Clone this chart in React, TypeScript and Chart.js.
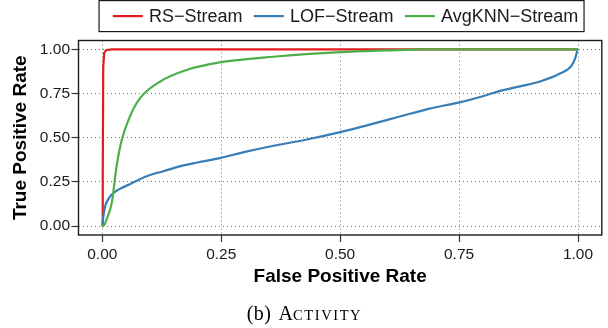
import React, { useEffect, useRef } from "react";
import { Chart, registerables } from "chart.js";

Chart.register(...registerables);

const seriesNames = ["RS−Stream", "LOF−Stream", "AvgKNN−Stream"];
const seriesColors = ["#E41A1C", "#377EB8", "#4DAF4A"];

const rsFpr = [0, 0.001, 0.002, 0.004, 0.008, 0.02, 0.1, 1];
const rsTpr = [0, 0.3, 0.9, 0.98, 0.995, 1.0, 1.0, 1.0];

const lofFpr = [0, 0.002, 0.006, 0.012, 0.02, 0.037, 0.06, 0.093, 0.13, 0.163, 0.2, 0.247, 0.3, 0.36, 0.43, 0.5, 0.56, 0.625, 0.688, 0.749, 0.8, 0.836, 0.88, 0.92, 0.962, 0.987, 0.995, 0.999];
const lofTpr = [0, 0.05, 0.113, 0.15, 0.179, 0.211, 0.24, 0.282, 0.312, 0.338, 0.36, 0.385, 0.42, 0.455, 0.49, 0.532, 0.573, 0.62, 0.665, 0.699, 0.735, 0.765, 0.792, 0.818, 0.863, 0.91, 0.957, 1.0];

const knnFpr = [0, 0.005, 0.009, 0.02, 0.03, 0.041, 0.058, 0.079, 0.121, 0.177, 0.247, 0.36, 0.5, 0.6, 0.68, 1];
const knnTpr = [0, 0.01, 0.038, 0.132, 0.338, 0.488, 0.62, 0.723, 0.817, 0.883, 0.926, 0.958, 0.984, 0.994, 1.0, 1.0];

const tickValues = [0, 0.25, 0.5, 0.75, 1];
const tickLabels = ["0.00", "0.25", "0.50", "0.75", "1.00"];

const xTitle = "False Positive Rate";
const yTitle = "True Positive Rate";

const SANS = "'Liberation Sans', Arial, Helvetica, sans-serif";
const SERIF = "'Liberation Serif', 'Times New Roman', serif";

const toPoints = (xs: number[], ys: number[]) => xs.map((x, i) => ({ x, y: ys[i] }));

const boxPlugin = {
  id: "panelBox",
  afterDraw(chart: any) {
    const { ctx, chartArea } = chart;
    ctx.save();
    ctx.setLineDash([]);
    // panel border
    ctx.strokeStyle = "#1a1a1a";
    ctx.lineWidth = 1.4;
    ctx.strokeRect(chartArea.left, chartArea.top, chartArea.right - chartArea.left, chartArea.bottom - chartArea.top);

    // legend
    ctx.font = `18px ${SANS}`;
    const widths = seriesNames.map((n) => ctx.measureText(n).width);
    const padL = 13.7, padR = 5.8, lineLen = 30, gapLT = 6.2, gapItem = 11.3;
    const total = padL + padR + widths.reduce((a, b) => a + b, 0) + seriesNames.length * (lineLen + gapLT) + (seriesNames.length - 1) * gapItem;
    const cx = (chartArea.left + chartArea.right) / 2 + 1.4;
    const left = cx - total / 2;
    const top = 0.6, h = 31;
    const cy = top + h / 2;
    ctx.strokeStyle = "#1a1a1a";
    ctx.lineWidth = 1.2;
    ctx.strokeRect(left, top, total, h);
    let x = left + padL;
    ctx.textBaseline = "middle";
    ctx.textAlign = "left";
    seriesNames.forEach((n, i) => {
      ctx.strokeStyle = seriesColors[i];
      ctx.lineWidth = 2.2;
      ctx.beginPath();
      ctx.moveTo(x, cy);
      ctx.lineTo(x + lineLen, cy);
      ctx.stroke();
      x += lineLen + gapLT;
      ctx.fillStyle = "#1a1a1a";
      ctx.fillText(n, x, cy + 0.5);
      x += widths[i] + gapItem;
    });
    ctx.restore();
  },
};

const axisCommon = (title: string) => ({
  type: "linear" as const,
  min: -0.05,
  max: 1.05,
  afterBuildTicks: (s: any) => {
    s.ticks = tickValues.map((v) => ({ value: v }));
  },
  ticks: {
    autoSkip: false,
    maxRotation: 0,
    color: "#1a1a1a",
    font: { family: SANS, size: 15.5 },
    callback: (v: any) => {
      const i = tickValues.indexOf(Number(v));
      return i >= 0 ? tickLabels[i] : "";
    },
  },
  grid: {
    color: "#707070",
    lineWidth: 1,
    drawTicks: true,
    tickLength: 7,
    tickColor: "#333333",
    tickWidth: 1.2,
    tickBorderDash: [],
  },
  border: { display: false, dash: [1, 3] },
  title: {
    display: true,
    text: title,
    color: "#000000",
    font: { family: SANS, size: 19, weight: "bold" as const },
  },
});

export default function App() {
  const canvasRef = useRef<HTMLCanvasElement | null>(null);

  useEffect(() => {
    const canvas = canvasRef.current;
    if (!canvas) return;
    const xAxis: any = axisCommon(xTitle);
    xAxis.ticks.padding = 3.9;
    xAxis.title.padding = { top: 0, bottom: 12.1 };
    xAxis.afterFit = (s: any) => {
      s.height = 65;
    };
    const yAxis: any = axisCommon(yTitle);
    yAxis.ticks.padding = 1.5;
    yAxis.title.padding = { top: 9.4, bottom: 0 };
    yAxis.afterFit = (s: any) => {
      s.width = 78.5;
    };

    const chart = new Chart(canvas, {
      type: "scatter",
      data: {
        datasets: [
          {
            label: seriesNames[0],
            data: toPoints(rsFpr, rsTpr),
            borderColor: seriesColors[0],
            backgroundColor: seriesColors[0],
            showLine: true,
            pointRadius: 0,
            borderWidth: 2.2,
            order: 3,
          },
          {
            label: seriesNames[1],
            data: toPoints(lofFpr, lofTpr),
            borderColor: seriesColors[1],
            backgroundColor: seriesColors[1],
            showLine: true,
            pointRadius: 0,
            borderWidth: 2.2,
            cubicInterpolationMode: "monotone",
            order: 2,
          },
          {
            label: seriesNames[2],
            data: toPoints(knnFpr, knnTpr),
            borderColor: seriesColors[2],
            backgroundColor: seriesColors[2],
            showLine: true,
            pointRadius: 0,
            borderWidth: 2.2,
            cubicInterpolationMode: "monotone",
            order: 1,
          },
        ],
      },
      options: {
        animation: false,
        responsive: false,
        maintainAspectRatio: false,
        devicePixelRatio: 1,
        layout: { padding: { top: 40.5, left: 0, right: 6.2, bottom: 28 } },
        plugins: {
          legend: { display: false },
          tooltip: { enabled: false },
        },
        scales: { x: xAxis, y: yAxis },
      } as any,
      plugins: [boxPlugin],
    });
    return () => chart.destroy();
  }, []);

  return (
    <div style={{ position: "fixed", left: 0, top: 0, width: 608, height: 328, background: "#ffffff", overflow: "hidden" }}>
      <canvas ref={canvasRef} width={608} height={328} style={{ width: 608, height: 328, display: "block" }} />
      <div
        style={{
          position: "absolute",
          left: 246.7,
          top: 302.3,
          whiteSpace: "nowrap",
          fontFamily: SERIF,
          fontSize: 20,
          lineHeight: "22px",
          color: "#000000",
        }}
      >
        <span style={{ letterSpacing: "0.5px" }}>(b)</span>
        <span style={{ marginLeft: 7 }}>A</span>
        <span style={{ fontSize: 14.5, letterSpacing: "1.6px" }}>CTIVITY</span>
      </div>
    </div>
  );
}
